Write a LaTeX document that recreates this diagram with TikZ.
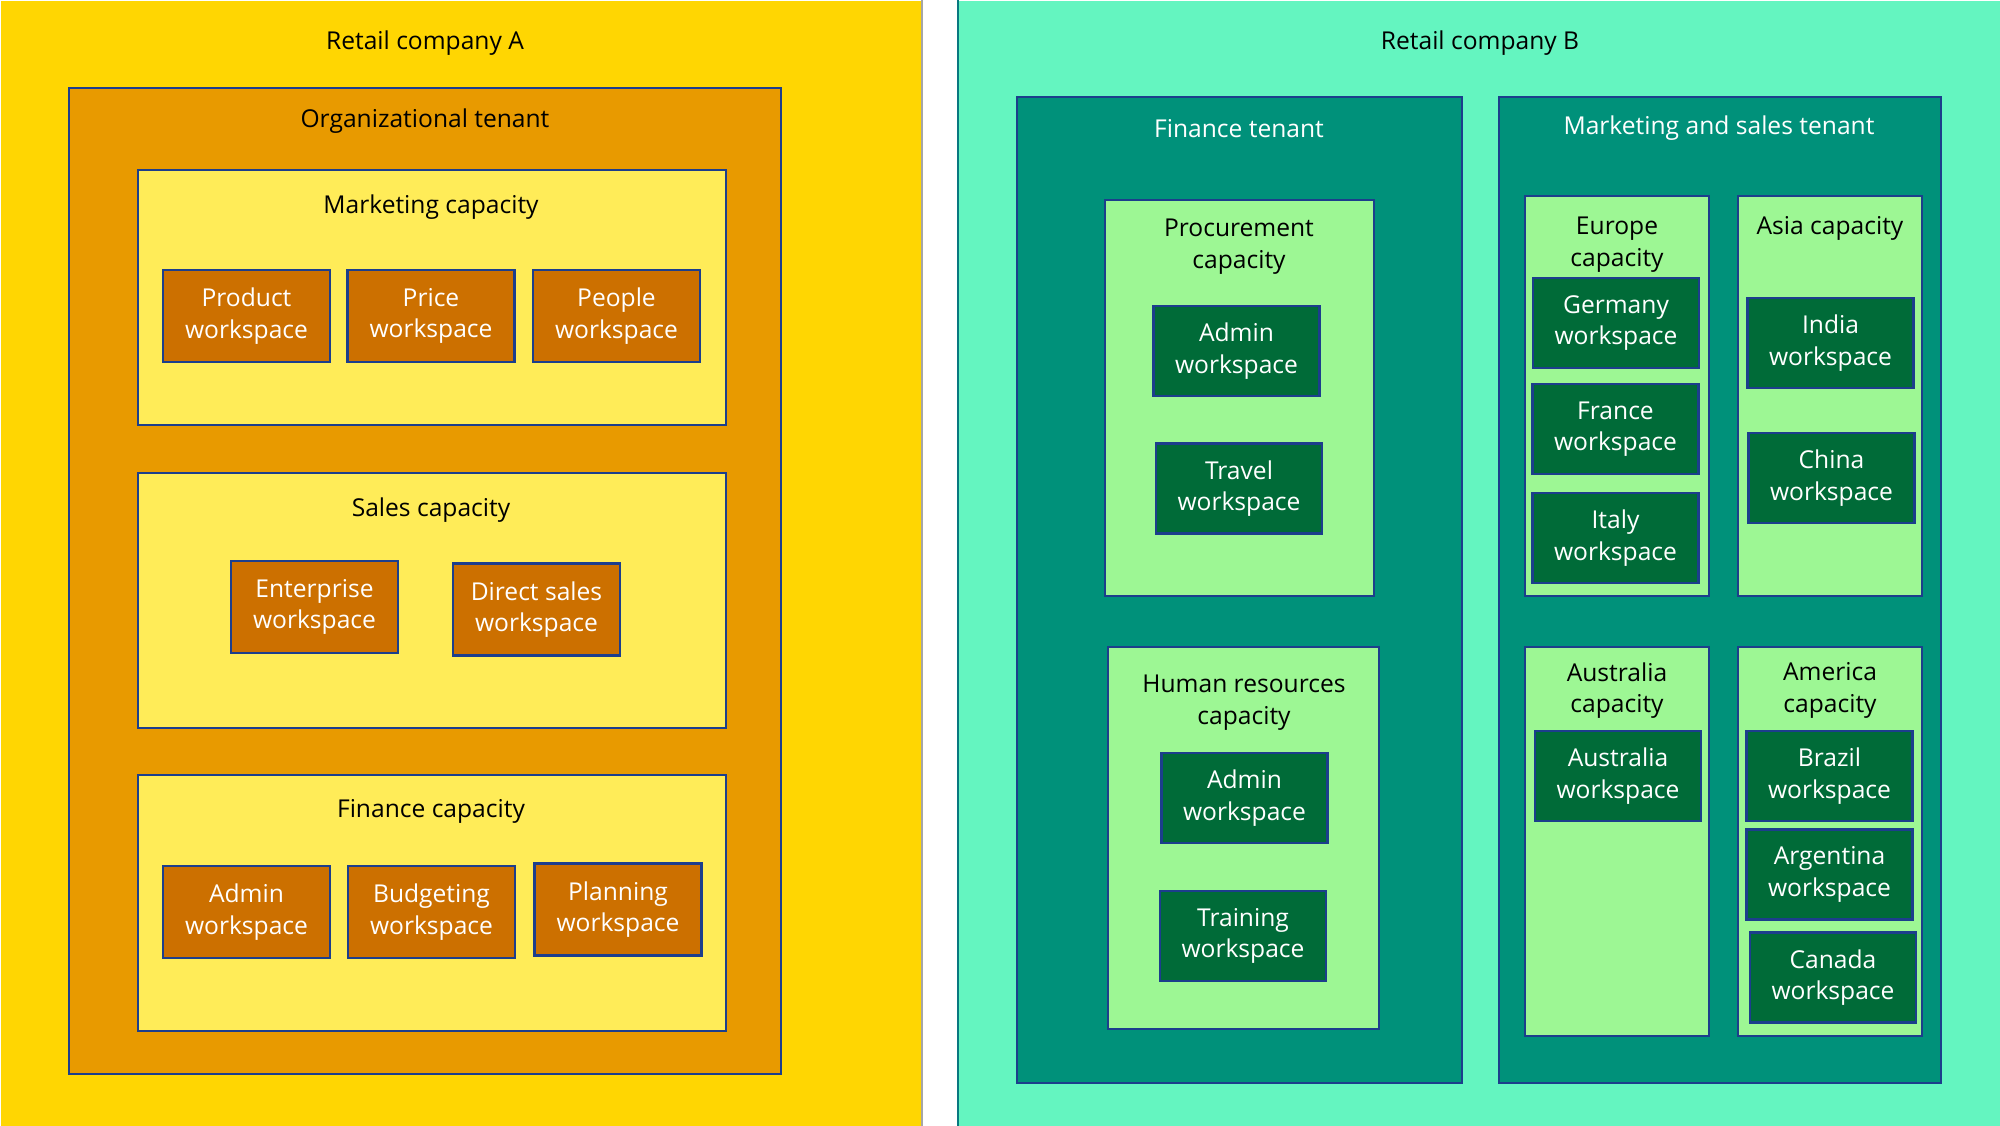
\documentclass[tikz,border=0pt]{standalone}
\usepackage{fontspec}
\setmainfont{Open Sans}
\usepackage{tikz}
\usetikzlibrary{positioning}
\definecolor{goldbg}{RGB}{255,214,2}
\definecolor{orgtenant}{RGB}{232,154,0}
\definecolor{capyellow}{RGB}{255,236,88}
\definecolor{wsorange}{RGB}{204,112,0}
\definecolor{mintbg}{RGB}{100,245,192}
\definecolor{tealtenant}{RGB}{0,145,122}
\definecolor{capgreen}{RGB}{157,247,148}
\definecolor{wsgreen}{RGB}{0,107,56}
\definecolor{edgeblue}{RGB}{28,62,140}

\tikzset{
  box/.style={rectangle, draw=edgeblue, line width=0.8pt, inner sep=0pt},
  tenantA/.style={box, fill=orgtenant},
  capA/.style={box, fill=capyellow},
  wsA/.style={box, fill=wsorange, minimum width=1.67cm, minimum height=0.92cm},
  tenantB/.style={box, fill=tealtenant},
  capB/.style={box, fill=capgreen},
  wsB/.style={box, fill=wsgreen, minimum width=1.66cm, minimum height=0.9cm},
  title/.style={font=\fontsize{7}{9}\selectfont, align=center, text=black, yshift=-0.025cm},
  wstext/.style={font=\fontsize{7}{9}\selectfont, align=center, text=white},
}

\begin{document}
\begin{tikzpicture}[y=-1cm]
\useasboundingbox (0,0) rectangle (20,11.26);

% company A
\node (compA) [rectangle, fill=goldbg, minimum width=9.21cm, minimum height=11.26cm, anchor=north west] at (0,0) {};
\draw[gray!70, line width=0.6pt] (compA.north east) -- (compA.south east);
\node (compAT) [title] at (4.25,0.41) {Retail company A};

\node (org) [tenantA, minimum width=7.12cm, minimum height=9.86cm] at (4.25,5.81) {};
\node (orgT) [title] at (4.25,1.19) {Organizational tenant};

\node (mktcap) [capA, minimum width=5.88cm, minimum height=2.55cm] at (4.32,2.975) {};
\node (mktcapT) [title] at (4.31,2.05) {Marketing capacity};
\node (prod) [wsA, wstext] at (2.465,3.16) {Product\\workspace};
\node (price) [wsA, wstext] at (4.31,3.16) {Price\\workspace};
\node (people) [wsA, wstext] at (6.165,3.16) {People\\workspace};

\node (salescap) [capA, minimum width=5.88cm, minimum height=2.55cm] at (4.32,6.005) {};
\node (salescapT) [title] at (4.31,5.08) {Sales capacity};
\node (enterprise) [wsA, wstext] at (3.145,6.07) {Enterprise\\workspace};
\node (direct) [wsA, wstext] at (5.365,6.095) {Direct sales\\workspace};

\node (fincap) [capA, minimum width=5.88cm, minimum height=2.56cm] at (4.32,9.03) {};
\node (fincapT) [title] at (4.31,8.09) {Finance capacity};
\node (adminA) [wsA, wstext] at (2.465,9.12) {Admin\\workspace};
\node (budget) [wsA, wstext] at (4.315,9.12) {Budgeting\\workspace};
\node (planning) [wsA, wstext] at (6.18,9.095) {Planning\\workspace};

% company B
\node (compB) [rectangle, fill=mintbg, minimum width=10.42cm, minimum height=11.26cm, anchor=north west] at (9.58,0) {};
\draw[tealtenant!70!edgeblue, line width=0.8pt] (compB.north west) -- (compB.south west);
\node (compBT) [title] at (14.8,0.41) {Retail company B};

\node (fint) [tenantB, minimum width=4.45cm, minimum height=9.86cm] at (12.395,5.9) {};
\node (fintT) [title, text=white] at (12.39,1.26) {Finance tenant};

\node (proc) [capB, minimum width=2.69cm, minimum height=3.96cm] at (12.395,3.98) {};
\node (procT) [title] at (12.39,2.44) {Procurement\\capacity};
\node (adminB) [wsB, wstext] at (12.365,3.51) {Admin\\workspace};
\node (travel) [wsB, wstext] at (12.39,4.885) {Travel\\workspace};

\node (hr) [capB, minimum width=2.71cm, minimum height=3.82cm] at (12.435,8.38) {};
\node (hrT) [title] at (12.44,7.0) {Human resources\\capacity};
\node (adminC) [wsB, wstext] at (12.445,7.98) {Admin\\workspace};
\node (training) [wsB, wstext] at (12.43,9.36) {Training\\workspace};

\node (mst) [tenantB, minimum width=4.42cm, minimum height=9.86cm] at (17.2,5.9) {};
\node (mstT) [title, text=white] at (17.19,1.26) {Marketing and sales tenant};

\node (europe) [capB, minimum width=1.84cm, minimum height=4.0cm] at (16.17,3.96) {};
\node (europeT) [title] at (16.17,2.42) {Europe\\capacity};
\node (germany) [wsB, wstext] at (16.16,3.23) {Germany\\workspace};
\node (france) [wsB, wstext] at (16.155,4.29) {France\\workspace};
\node (italy) [wsB, wstext] at (16.155,5.38) {Italy\\workspace};

\node (asia) [capB, minimum width=1.84cm, minimum height=4.0cm] at (18.3,3.96) {};
\node (asiaT) [title] at (18.3,2.26) {Asia capacity};
\node (india) [wsB, wstext] at (18.305,3.43) {India\\workspace};
\node (china) [wsB, wstext] at (18.315,4.78) {China\\workspace};

\node (austr) [capB, minimum width=1.84cm, minimum height=3.89cm] at (16.17,8.415) {};
\node (austrT) [title] at (16.17,6.88) {Australia\\capacity};
\node (austrws) [wsB, wstext] at (16.18,7.76) {Australia\\workspace};

\node (amer) [capB, minimum width=1.84cm, minimum height=3.89cm] at (18.3,8.415) {};
\node (amerT) [title] at (18.3,6.88) {America\\capacity};
\node (brazil) [wsB, wstext] at (18.295,7.76) {Brazil\\workspace};
\node (argentina) [wsB, wstext] at (18.295,8.745) {Argentina\\workspace};
\node (canada) [wsB, wstext] at (18.33,9.775) {Canada\\workspace};
\end{tikzpicture}
\end{document}
